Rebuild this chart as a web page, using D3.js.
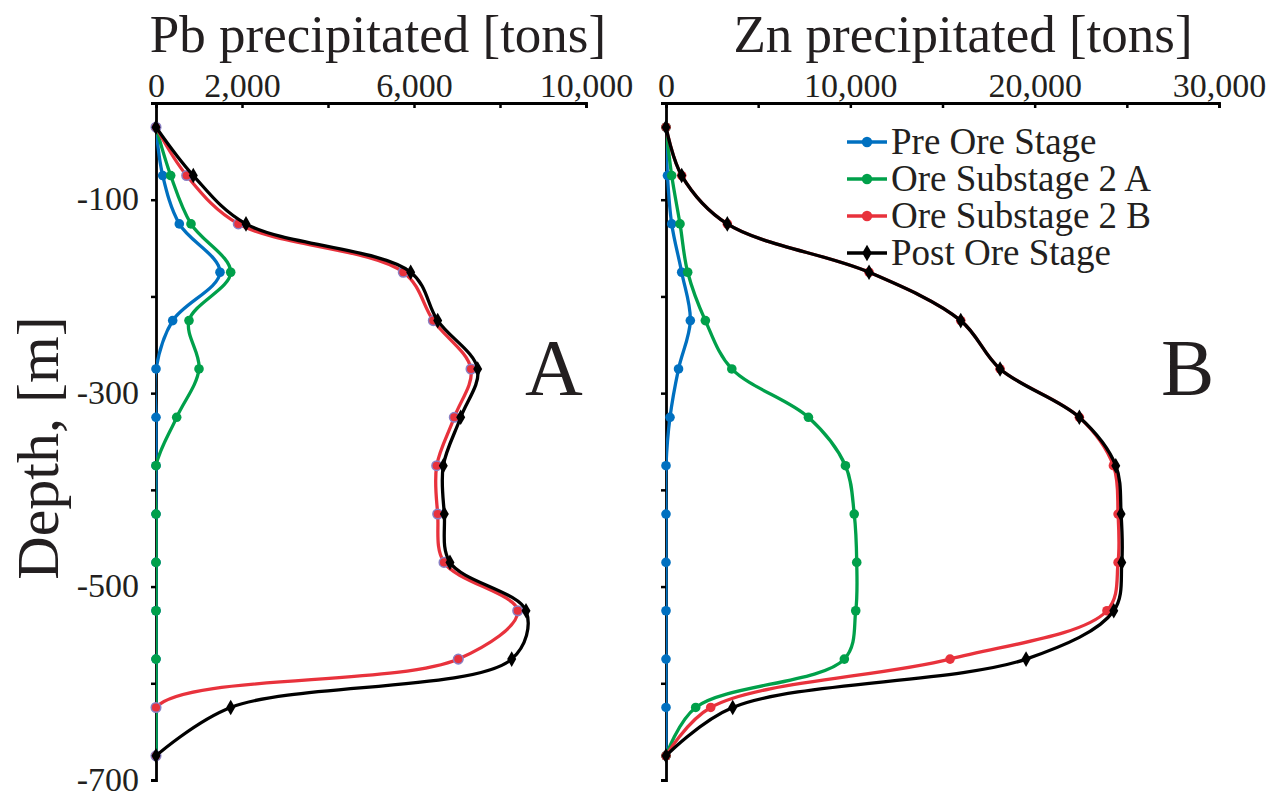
<!DOCTYPE html>
<html>
<head>
<meta charset="utf-8">
<script src="https://cdn.jsdelivr.net/npm/d3@7"></script>
<style>
  html, body { margin: 0; padding: 0; background: #fff; }
  svg text { font-family: "Liberation Serif", "Times New Roman", serif; fill: #231f20; }
</style>
</head>
<body>
<svg id="chart" width="1282" height="791"></svg>
<script>
// Depth of each sample (m)
const depths = [-25, -75, -125, -175, -225, -275, -325, -375, -425, -475, -525, -575, -625, -675];

// Pb precipitated [tons]
const pbPre     = [0, 156, 542, 1488, 388, 0, 0, 0, 0, 0, 0, 0, 0, 0];
const pbSub2A   = [0, 342, 814, 1737, 767, 1000, 481, 0, 0, 0, 0, 0, 0, 0];
const pbSub2B   = [0, 714, 1914, 5751, 6449, 7326, 6937, 6528, 6551, 6698, 8412, 7030, 0, 0];
const pbPost    = [0, 867, 2093, 5923, 6551, 7481, 7086, 6681, 6705, 6837, 8605, 8272, 1737, 0];

// Zn precipitated [tons]
const znPre     = [0, 80, 309, 851, 1320, 680, 217, 0, 0, 0, 0, 0, 0, 0];
const znSub2A   = [0, 309, 760, 1177, 2135, 3570, 7727, 9734, 10211, 10347, 10293, 9675, 1611, 0];
const znSub2B   = [0, 851, 3326, 11015, 15990, 18123, 22425, 24272, 24525, 24525, 23923, 15410, 2425, 0];
const znPost    = [0, 851, 3326, 11015, 15990, 18123, 22425, 24400, 24688, 24726, 24292, 19533, 3619, 0];

const seriesNames = ['Pre Ore Stage', 'Ore Substage 2 A', 'Ore Substage 2 B', 'Post Ore Stage'];
const seriesColors = ['#0070c0', '#00a04a', '#e8323c', '#000000'];

const pbTicks = [0, 2000, 4000, 6000, 8000, 10000];
const pbLabels = [0, 2000, 6000, 10000];
const znTicks = [0, 5000, 10000, 15000, 20000, 25000, 30000];
const znLabels = [0, 10000, 20000, 30000];
const depthTicks = [0, -100, -200, -300, -400, -500, -600, -700];
const depthLabels = [-100, -300, -500, -700];

const svg = d3.select('#chart');
const defs = svg.append('defs');

const y = d3.scaleLinear().domain([0, -700]).range([103, 780]);
const fmt = d3.format(',');

function drawPanel(opts) {
    const x = d3.scaleLinear().domain(opts.domain).range(opts.range);
    const g = svg.append('g');

    // clip lines to the plot area (markers stay unclipped)
    defs.append('clipPath')
        .attr('id', opts.clipId)
        .append('rect')
        .attr('x', x.range()[0])
        .attr('y', y(0))
        .attr('width', x.range()[1] - x.range()[0])
        .attr('height', y(-700) - y(0));

    // title
    g.append('text')
        .attr('x', opts.titleX)
        .attr('y', 52)
        .attr('text-anchor', 'middle')
        .style('font-size', '53px')
        .text(opts.title);

    // top axis
    const xAxis = d3.axisTop(x)
        .tickValues(opts.ticks)
        .tickSize(-5)
        .tickFormat(d => opts.labels.includes(d) ? fmt(d) : '');
    const xg = g.append('g')
        .attr('transform', `translate(0, ${y(0)})`)
        .call(xAxis);
    xg.select('.domain').attr('stroke', '#000').attr('stroke-width', 2.8);
    xg.selectAll('.tick line').attr('stroke', '#000').attr('stroke-width', 2.5);
    xg.selectAll('.tick text')
        .attr('y', -6)
        .attr('dy', 0)
        .style('font-size', '34px')
        .style('font-family', '"Liberation Serif", serif')
        .attr('fill', '#231f20');

    // left axis
    const yAxis = d3.axisLeft(y)
        .tickValues(depthTicks)
        .tickSize(5)
        .tickFormat(d => opts.showYLabels && depthLabels.includes(d) ? String(d) : '');
    const yg = g.append('g')
        .attr('transform', `translate(${x(0)}, 0)`)
        .call(yAxis);
    yg.select('.domain').attr('stroke', '#000').attr('stroke-width', 2.8);
    yg.selectAll('.tick line').attr('stroke', '#000').attr('stroke-width', 2.5);
    yg.selectAll('.tick text')
        .attr('x', -17)
        .attr('dy', '0.3em')
        .style('font-size', '34px')
        .style('font-family', '"Liberation Serif", serif')
        .attr('fill', '#231f20');

    const line = d3.line()
        .x(d => x(d.v))
        .y(d => y(d.depth))
        .curve(d3.curveCatmullRom.alpha(0.5));

    opts.series.forEach((vals, i) => {
        const pts = depths.map((depth, j) => ({ depth, v: vals[j] }));
        g.append('path')
            .datum(pts)
            .attr('d', line)
            .attr('clip-path', `url(#${opts.clipId})`)
            .attr('fill', 'none')
            .attr('stroke', seriesColors[i])
            .attr('stroke-width', 3.3);

        if (i === 3) {
            g.selectAll(null)
                .data(pts)
                .enter()
                .append('path')
                .attr('d', d3.symbol(d3.symbolDiamond, 70))
                .attr('transform', d => `translate(${x(d.v)}, ${y(d.depth)})`)
                .attr('fill', '#000');
        } else {
            g.selectAll(null)
                .data(pts)
                .enter()
                .append('circle')
                .attr('cx', d => x(d.v))
                .attr('cy', d => y(d.depth))
                .attr('r', 4.8)
                .attr('fill', seriesColors[i])
                .attr('stroke', i === 2 && opts.redOutline ? '#8a7fc4' : 'none')
                .attr('stroke-width', 1.5);
        }
    });

    // panel letter
    g.append('text')
        .attr('x', opts.letterX)
        .attr('y', 395)
        .style('font-size', '80px')
        .text(opts.letter);

    return x;
}

drawPanel({
    title: 'Pb precipitated [tons]',
    titleX: 378,
    domain: [0, 10000],
    range: [156, 586],
    ticks: pbTicks,
    labels: pbLabels,
    showYLabels: true,
    series: [pbPre, pbSub2A, pbSub2B, pbPost],
    redOutline: true,
    clipId: 'clip-pb',
    letter: 'A',
    letterX: 525
});

drawPanel({
    title: 'Zn precipitated [tons]',
    titleX: 963,
    domain: [0, 30000],
    range: [666, 1219],
    ticks: znTicks,
    labels: znLabels,
    showYLabels: false,
    series: [znPre, znSub2A, znSub2B, znPost],
    redOutline: false,
    clipId: 'clip-zn',
    letter: 'B',
    letterX: 1161
});

// y axis title
svg.append('text')
    .attr('transform', 'translate(58, 448) rotate(-90)')
    .attr('text-anchor', 'middle')
    .style('font-size', '60px')
    .text('Depth, [m]');

// legend
const legend = svg.append('g').attr('transform', 'translate(847, 142)');
seriesNames.forEach((name, i) => {
    const row = legend.append('g').attr('transform', `translate(0, ${i * 37})`);
    row.append('line')
        .attr('x1', 0).attr('x2', 40)
        .attr('y1', 0).attr('y2', 0)
        .attr('stroke', seriesColors[i])
        .attr('stroke-width', 3.3);
    if (i === 3) {
        row.append('path')
            .attr('d', d3.symbol(d3.symbolDiamond, 80))
            .attr('transform', 'translate(20, 0)')
            .attr('fill', '#000');
    } else {
        row.append('circle')
            .attr('cx', 20).attr('cy', 0).attr('r', 5.2)
            .attr('fill', seriesColors[i]);
    }
    row.append('text')
        .attr('x', 44)
        .attr('y', 12)
        .style('font-size', '37px')
        .text(name);
});
</script>
</body>
</html>
